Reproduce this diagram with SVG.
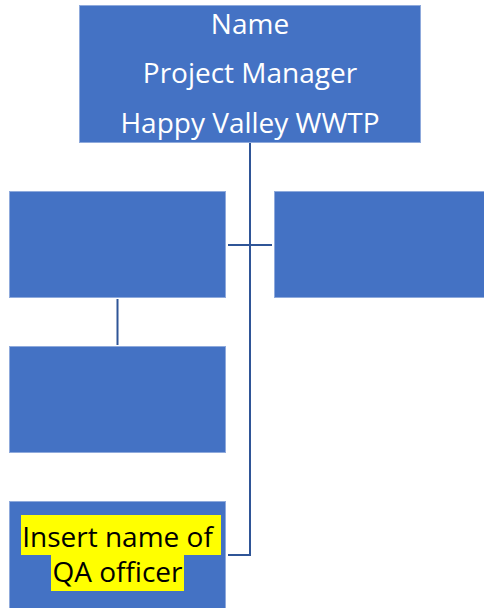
<svg xmlns="http://www.w3.org/2000/svg" width="484" height="608" viewBox="0 0 484 608">
<style>
.box{fill:#4472C4;stroke:#8FAADC;stroke-width:1}
.conn{stroke:#2F5597;stroke-width:2;fill:none}
.wt{font-family:"Open Sans","Noto Sans",sans-serif;font-size:28px;fill:#FFFFFF;text-anchor:middle}
.bt{font-family:"Open Sans","Noto Sans",sans-serif;font-size:28px;fill:#000000;text-anchor:middle}
.hl{fill:#FFFF00}
</style>
<rect width="484" height="608" fill="#FFFFFF"/>
<g id="connectors">
<path class="conn" d="M250,143 V555 H228"/>
<path class="conn" d="M228,245 H272"/>
<path class="conn" d="M117.5,299 V345"/>
</g>
<g id="node-pm">
<rect class="box" x="79.5" y="5.5" width="341" height="137"/>
<text class="wt" x="250" y="34">Name</text>
<text class="wt" x="250" y="83">Project Manager</text>
<text class="wt" x="250" y="133">Happy Valley WWTP</text>
</g>
<g id="node-left1">
<rect class="box" x="9.5" y="191.5" width="216" height="106"/>
</g>
<g id="node-right1">
<rect class="box" x="274.5" y="191.5" width="212" height="106"/>
</g>
<g id="node-left2">
<rect class="box" x="9.5" y="346.5" width="216" height="106"/>
</g>
<g id="node-qa">
<rect class="box" x="9.5" y="501.5" width="216" height="110"/>
<rect class="hl" x="21" y="515" width="200" height="40"/>
<rect class="hl" x="51" y="555" width="133" height="36"/>
<text class="bt" x="117.5" y="547">Insert name of</text>
<text class="bt" x="117.5" y="582">QA officer</text>
</g>
</svg>
